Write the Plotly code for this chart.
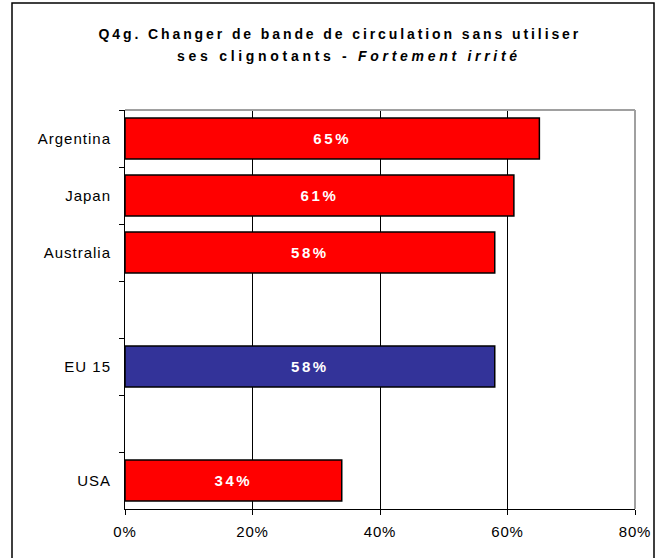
import plotly.graph_objects as go

# Survey results: share of respondents strongly irritated
countries = ["Argentina", "Japan", "Australia", "EU 15", "USA"]
values = [65, 61, 58, 58, 34]
bar_colors = ["#FF0000", "#FF0000", "#FF0000", "#333399", "#FF0000"]

# Category order on the y axis, with empty slots separating the groups
category_order = ["Argentina", "Japan", "Australia", " ", "EU 15", "  ", "USA"]

x_ticks = [0, 20, 40, 60, 80]
x_tick_labels = ["0%", "20%", "40%", "60%", "80%"]

title_line1 = "Q4g. Changer de bande de circulation sans utiliser"
title_line2 = "ses clignotants - <i>Fortement irrité</i>"

FONT = "Liberation Sans, Arial, sans-serif"

fig = go.Figure(
    go.Bar(
        x=values,
        y=countries,
        orientation="h",
        marker=dict(color=bar_colors, line=dict(color="black", width=1.5)),
        text=[f"{v}%" for v in values],
        textposition="inside",
        insidetextanchor="middle",
        textfont=dict(family=FONT, size=15, color="white", weight="bold"),
        hoverinfo="skip",
    )
)

W, H = 663, 558
L, R, T, B = 125, 28, 110, 49
pw, ph = W - L - R, H - T - B


def px_x(x):
    return (x - L) / pw


def px_y(y):
    return (H - B - y) / ph


fig.update_layout(
    width=W,
    height=H,
    margin=dict(l=L, r=R, t=T, b=B),
    paper_bgcolor="white",
    plot_bgcolor="white",
    bargap=0.28,
    showlegend=False,
    font=dict(family=FONT, size=15, color="black"),
    xaxis=dict(
        range=[0, 80],
        tickvals=x_ticks,
        ticktext=x_tick_labels,
        showgrid=True,
        gridcolor="black",
        gridwidth=1,
        zeroline=False,
        showline=True,
        linecolor="black",
        linewidth=1,
        ticks="outside",
        ticklen=5,
        tickcolor="black",
        ticklabelstandoff=4,
        tickfont=dict(family=FONT, size=15),
    ),
    yaxis=dict(
        type="category",
        categoryorder="array",
        categoryarray=category_order,
        autorange="reversed",
        tickson="boundaries",
        ticks="outside",
        ticklen=5,
        tickcolor="black",
        showgrid=False,
        showline=True,
        linecolor="black",
        linewidth=1,
        ticklabelstandoff=10,
        tickfont=dict(family=FONT, size=15),
    ),
    shapes=[
        # light grey top and right edges of the plotting area
        dict(type="line", xref="paper", yref="paper", x0=0, x1=1, y0=1, y1=1,
             line=dict(color="#A0A0A0", width=2)),
        dict(type="line", xref="paper", yref="paper", x0=1, x1=1, y0=0, y1=1,
             line=dict(color="#A0A0A0", width=2)),
        # outer chart frame
        dict(type="rect", xref="paper", yref="paper",
             x0=px_x(12), x1=px_x(654), y0=px_y(H + 10), y1=px_y(3),
             line=dict(color="black", width=1.5), fillcolor="rgba(0,0,0,0)"),
    ],
    annotations=[
        dict(text=f"<b>{title_line1}</b>", xref="paper", yref="paper",
             x=px_x(340), y=px_y(34), xanchor="center", yanchor="middle",
             showarrow=False, font=dict(family=FONT, size=14, color="black")),
        dict(text=f"<b>{title_line2}</b>", xref="paper", yref="paper",
             x=px_x(349), y=px_y(56), xanchor="center", yanchor="middle",
             showarrow=False, font=dict(family=FONT, size=14, color="black")),
    ],
)

# spaced-out lettering for title, tick labels and bar labels
post = """
function spread(sel, px){
  document.querySelectorAll(sel).forEach(function(t){ t.style.letterSpacing = px; });
}
var titles = document.querySelectorAll('.annotation-text');
if (titles[0]) titles[0].style.letterSpacing = '2.9px';
if (titles[1]) titles[1].style.letterSpacing = '3.7px';
spread('.ytick text', '1px');
spread('.xtick text', '0.8px');
spread('text.bartext', '2.6px');
"""

fig.write_html("out.html", post_script=post)
